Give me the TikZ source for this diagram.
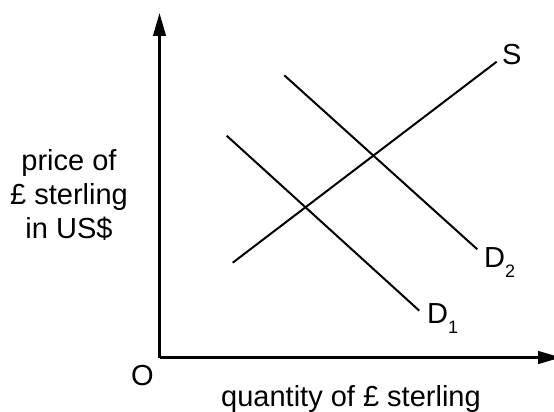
\documentclass[tikz,border=0pt]{standalone}
\usepackage{fontspec}
\setmainfont{Liberation Sans}
\usepackage{tikz}
\usetikzlibrary{arrows.meta}
\tikzset{
  axis/.style={line width=2.8pt, -{Triangle[length=23pt, width=12.5pt]}},
  curve/.style={line width=2pt},
  lbl/.style={font=\fontsize{29}{34}\selectfont, inner sep=0pt, align=center},
}
\newcommand{\sub}[1]{\raisebox{-10pt}{\fontsize{18}{20}\selectfont #1}}

\begin{document}
\begin{tikzpicture}[x=1pt, y=-1pt]
  \useasboundingbox (0,0) rectangle (554,412);
  \clip (0,0) rectangle (554,412);

  % axes
  \coordinate (O) at (159.5,357.5);
  \coordinate (ytop) at (159.5,13);
  \coordinate (xend) at (561,357.5);
  \draw[axis] (O) -- (ytop);
  \draw[axis] (O) -- (xend);

  % supply and demand
  \coordinate (s0) at (232.7,262.7);
  \coordinate (s1) at (496.7,61.7);
  \coordinate (da0) at (226.7,135.7);
  \coordinate (da1) at (419.3,310.7);
  \coordinate (db0) at (284.3,75.3);
  \coordinate (db1) at (477.3,249.3);
  \draw[curve] (s0) -- (s1);
  \draw[curve] (da0) -- (da1);
  \draw[curve] (db0) -- (db1);

  % labels
  \node[lbl, anchor=base west] (slbl) at (502,65) {S};
  \node[lbl, anchor=base west] (d2lbl) at (484,267) {D\sub{2}};
  \node[lbl, anchor=base west] (d1lbl) at (427,323) {D\sub{1}};
  \node[lbl, anchor=base west] (olbl) at (131,385) {O};
  \node[lbl, anchor=base west] (xlbl) at (221,406.5) {quantity of £ sterling};
  \node[lbl] (ylbl) at (69,195) {price of\\£ sterling\\in US\$};
\end{tikzpicture}
\end{document}
